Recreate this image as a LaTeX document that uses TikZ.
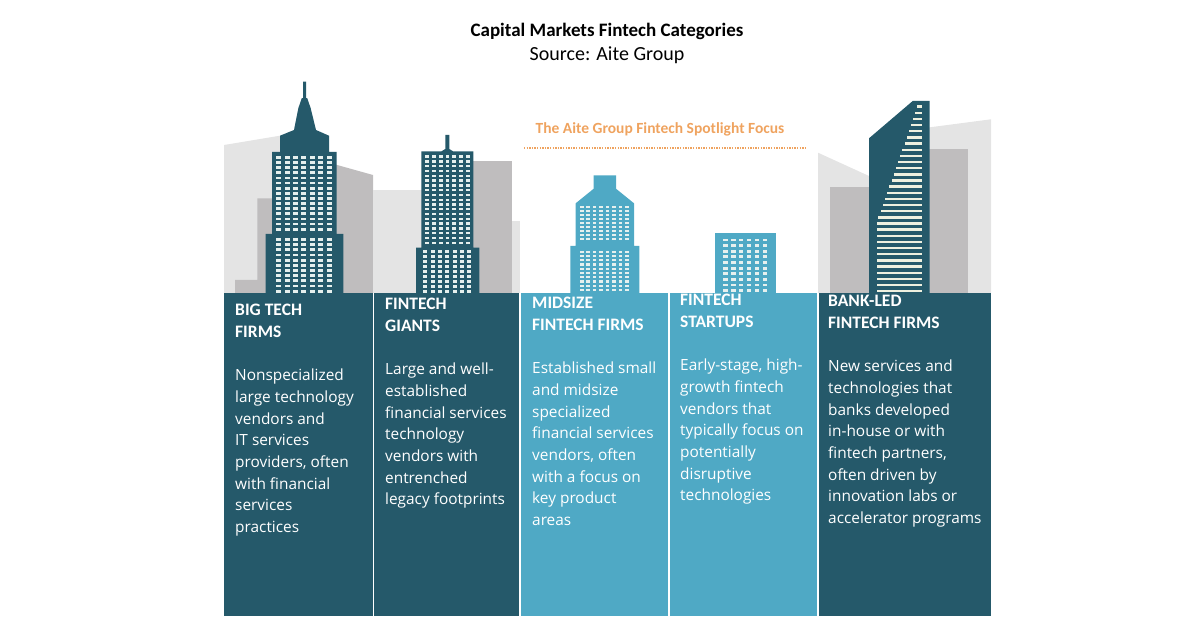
\documentclass[tikz,border=0pt]{standalone}
\usepackage{fontspec}
\setmainfont{Open Sans}
\newfontfamily\headfont{Carlito}
\definecolor{darkteal}{HTML}{25596A}
\definecolor{lightteal}{HTML}{4FA9C5}
\definecolor{palegray}{HTML}{E4E4E4}
\definecolor{midgray}{HTML}{BFBDBE}
\definecolor{spotorange}{HTML}{EFA35F}
\definecolor{windowcol}{HTML}{E6F0EE}
\definecolor{slatcol}{HTML}{EEF0DF}
\tikzset{
  paneltext/.style={anchor=north west,inner sep=0pt,align=left,text=white,font=\fontsize{15.4}{21.7}\selectfont},
  win/.style={fill=windowcol}
}
\newcommand{\headline}[1]{{\headfont\bfseries\fontsize{17.5}{21.7}\selectfont #1}}
% windows: first x, x step, columns, first y, y step, rows, width, height
\newcommand{\windows}[8]{
  \foreach \c in {1,...,#3}\foreach \r in {1,...,#6}
    \fill[win] ({#1+(\c-1)*#2-#7/2},{#4+(\r-1)*#5-#8/2}) rectangle ++(#7,#8);
}
\begin{document}
\begin{tikzpicture}[x=1pt,y=-1pt]
\useasboundingbox (0,0) rectangle (1200,628);
% title
\node (title) at (607,31){\headfont\bfseries\fontsize{19}{22}\selectfont Capital Markets Fintech Categories};
\node (source) at (607,55){\headfont\fontsize{20}{24}\selectfont Source: Aite Group};
% background city
\fill[palegray] (224,145)--(280,135.7)--(280,293)--(224,293)--cycle;
\fill[midgray] (235,293)--(235,280)--(257.3,280)--(257.3,198.3)--(280,198.3)--(280,293)--cycle;
\fill[midgray] (330,163)--(373,175)--(373,293)--(330,293)--cycle;
\fill[palegray] (373,190)rectangle(430,293);
\fill[midgray] (465,161)rectangle(511.7,293);
\fill[palegray] (511.7,221)rectangle(519.5,293);
\fill[palegray] (818,152.7)--(880,181)--(880,293)--(818,293)--cycle;
\fill[palegray] (920,128.6)--(991,119.3)--(991,293)--(920,293)--cycle;
\fill[midgray] (830,186.7)rectangle(880,293);
\fill[midgray] (920,149.3)rectangle(968.3,293);
% panels
\fill[darkteal] (224,293)rectangle(372.5,616);
\fill[darkteal] (374,293)rectangle(519,616);
\fill[lightteal] (521,293)rectangle(668,616);
\fill[lightteal] (670,293)rectangle(817,616);
\fill[darkteal] (819,293)rectangle(991,616);
% big tech tower
\fill[darkteal] (303,81.7)--(306,81.7)--(306,98)--(307.3,98.3)--(310.7,108.3)--(316,130)--(329,135.7)--(329,152)
  --(336.7,152)--(336.7,234)--(343.3,234)--(343.3,293)--(265.7,293)--(265.7,234)--(272,234)--(272,152)--(280,152)
  --(280,135.7)--(294,130)--(298.3,108.3)--(301.7,98.3)--(303,98)--cycle;
\windows{278.7}{8.43}{7}{157.5}{5.12}{15}{5}{2.8}
\windows{278.7}{8.43}{7}{239.5}{5.17}{11}{5}{2.8}
% giants tower
\fill[darkteal] (445.3,135)--(449.3,135)--(449.3,149)--(453,151.3)--(473.3,151.3)--(473.3,247.7)--(479.3,247.7)--(479.3,293)
  --(416,293)--(416,247.7)--(421.3,247.7)--(421.3,151.3)--(441.5,151.3)--(445.3,149)--cycle;
\windows{427.3}{6.73}{7}{156.7}{4.78}{19}{3.8}{2.4}
\windows{425.3}{7.33}{7}{251.7}{5}{9}{3.8}{2.4}
% midsize tower
\fill[lightteal] (593.7,175.3)--(616,175.3)--(616,188.7)--(634,203.3)--(634,246)--(639.3,246)--(639.3,293)
  --(570.3,293)--(570.3,246)--(575.7,246)--(575.7,203.3)--(593.7,188.7)--cycle;
\windows{581.7}{6.47}{8}{207.3}{4}{9}{3.6}{2.2}
\windows{581.7}{6.47}{8}{251.7}{4.26}{10}{3.6}{2.2}
% startup block
\fill[lightteal] (715,233.3)rectangle(776.3,293);
\windows{725.3}{7.93}{6}{240}{5.63}{10}{4.6}{2.8}
% bank tower
\fill[darkteal] (869,138.3)--(912.7,101)--(929.7,101)--(929.7,293)--(869,293)--cycle;
\foreach \i/\xl in {0/917.3,1/915.3,2/913.3,3/911.3,4/909.3,5/907,6/904.7,7/902.3,8/900,9/897.7,10/895.7,
  11/893.7,12/891.7,13/889.3,14/887.3,15/885,16/882.7,17/880.7,18/878.3,19/877,20/877,21/877,22/877,23/877,
  24/877,25/877,26/877,27/877,28/877,29/877,30/877}
  \fill[slatcol] (\xl,{106.7+6.15*\i-1.2}) rectangle (921.7,{106.7+6.15*\i+1.2});
% spotlight
\node (focus) at (660,129){\headfont\bfseries\fontsize{15.5}{18}\selectfont\color{spotorange}The Aite Group Fintech Spotlight Focus};
\coordinate (focusl) at (524,148);
\coordinate (focusr) at (806,148);
\draw[spotorange,line width=1.3pt,dash pattern=on 1.3pt off 1.3pt] (focusl)--(focusr);
% panel texts
\node[paneltext] (bigtech) at (235,304){\headline{BIG TECH}\\\headline{FIRMS}\\[21.7pt]
Nonspecialized\\large technology\\vendors and\\IT services\\providers, often\\with financial\\services\\practices};
\node[paneltext] (giants) at (385,298){\headline{FINTECH}\\\headline{GIANTS}\\[21.7pt]
Large and well-\\established\\financial services\\technology\\vendors with\\entrenched\\legacy footprints};
\node[paneltext] (midsize) at (532,297){\headline{MIDSIZE}\\\headline{FINTECH FIRMS}\\[21.7pt]
Established small\\and midsize\\specialized\\financial services\\vendors, often\\with a focus on\\key product\\areas};
\node[paneltext] (startups) at (680,294){\headline{FINTECH}\\\headline{STARTUPS}\\[21.7pt]
Early-stage, high-\\growth fintech\\vendors that\\typically focus on\\potentially\\disruptive\\technologies};
\node[paneltext] (bankled) at (828,295){\headline{BANK-LED}\\\headline{FINTECH FIRMS}\\[21.7pt]
New services and\\technologies that\\banks developed\\in-house or with\\fintech partners,\\often driven by\\innovation labs or\\accelerator programs};
\end{tikzpicture}
\end{document}
